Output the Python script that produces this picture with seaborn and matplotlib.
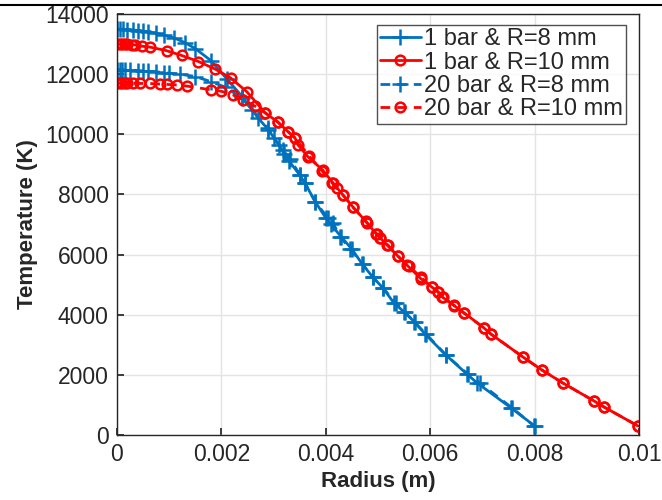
import numpy as np
import pandas as pd
import seaborn as sns
import matplotlib
matplotlib.use("Agg")
import matplotlib.pyplot as plt
from matplotlib.lines import Line2D

# ---------------- data ----------------
r_1bar_8mm = [0, 0.00006, 0.00012, 0.0002, 0.0003, 0.0004, 0.0005, 0.0006, 0.00075, 0.0009,
              0.0011, 0.0013, 0.0015, 0.0018, 0.0021, 0.0024, 0.0027, 0.0029, 0.0031, 0.0032,
              0.0033, 0.0035, 0.0036, 0.0038, 0.004, 0.0041, 0.0043, 0.0045, 0.0047, 0.0049,
              0.0051, 0.0053, 0.0055, 0.0057, 0.0059, 0.0063, 0.0067, 0.0069, 0.00755, 0.008]
T_1bar_8mm = [13500, 13500, 13490, 13480, 13470, 13450, 13430, 13400, 13360, 13300,
              13200, 13050, 12850, 12450, 11850, 11250, 10550, 10150, 9650, 9350,
              9100, 8650, 8380, 7750, 7220, 7000, 6580, 6180, 5680, 5250,
              4880, 4400, 4090, 3760, 3360, 2660, 2030, 1730, 900, 300]

r_1bar_10mm = [0, 0.00005, 0.0001, 0.00015, 0.0002, 0.00028, 0.00035, 0.00047, 0.00063, 0.00095,
               0.00124, 0.00156, 0.00188, 0.00218, 0.00249, 0.00284, 0.00308, 0.00328, 0.00341, 0.00347,
               0.00366, 0.00394, 0.00414, 0.00421, 0.00433, 0.00452, 0.00477, 0.00496, 0.00504, 0.00517,
               0.00538, 0.00556, 0.00582, 0.00603, 0.00615, 0.00623, 0.00646, 0.00665, 0.00703, 0.00716,
               0.00778, 0.00814, 0.00854, 0.00914, 0.00933, 0.00998]
T_1bar_10mm = [13000, 13000, 13000, 13000, 12990, 12980, 12970, 12930, 12900, 12780,
               12620, 12420, 12170, 11870, 11410, 10710, 10410, 10080, 9880, 9640,
               9250, 8810, 8380, 8230, 7980, 7580, 7100, 6700, 6560, 6320,
               5950, 5640, 5200, 4920, 4760, 4590, 4300, 4060, 3560, 3360,
               2590, 2160, 1730, 1130, 930, 300]

r_20bar_8mm = [0, 0.00005, 0.0001, 0.00015, 0.00025, 0.0004, 0.0005, 0.0006, 0.00075, 0.0009,
               0.001, 0.0012, 0.0015, 0.0018, 0.00207, 0.00239, 0.00259, 0.00289, 0.003, 0.00318,
               0.00331, 0.00351, 0.0036, 0.0038, 0.00404, 0.00414, 0.00427, 0.00446, 0.00471, 0.0049,
               0.00509, 0.00534, 0.00552, 0.00569, 0.00592, 0.0063, 0.00672, 0.00695, 0.00757, 0.00799]
T_20bar_8mm = [12150, 12150, 12150, 12140, 12140, 12120, 12110, 12100, 12080, 12050,
               12030, 12000, 11920, 11750, 11570, 11210, 10810, 10210, 9880, 9480,
               9180, 8650, 8380, 7750, 7220, 7050, 6600, 6200, 5670, 5250,
               4900, 4390, 4090, 3760, 3360, 2660, 2030, 1730, 900, 300]

r_20bar_10mm = [0, 0.00005, 0.0001, 0.00015, 0.0002, 0.0003, 0.00045, 0.00063, 0.00082, 0.00095,
                0.00115, 0.00135, 0.0018, 0.002, 0.00222, 0.00241, 0.00264, 0.00284, 0.00308, 0.00328,
                0.00341, 0.00368, 0.00393, 0.00412, 0.00433, 0.00452, 0.00479, 0.00498, 0.00504, 0.00519,
                0.00538, 0.00559, 0.00582, 0.00603, 0.00615, 0.00624, 0.00645, 0.00664, 0.00703, 0.00716,
                0.00778, 0.00814, 0.00854, 0.00914, 0.00933, 0.00998]
T_20bar_10mm = [11700, 11700, 11700, 11700, 11700, 11700, 11690, 11690, 11670, 11660,
                11640, 11600, 11480, 11430, 11310, 11150, 10940, 10710, 10410, 10080,
                9880, 9280, 8780, 8380, 7980, 7580, 7050, 6680, 6550, 6320,
                5950, 5620, 5250, 4920, 4760, 4590, 4320, 4060, 3560, 3360,
                2590, 2160, 1730, 1130, 930, 300]

labels = ["1 bar & R=8 mm", "1 bar & R=10 mm", "20 bar & R=8 mm", "20 bar & R=10 mm"]

# ---------------- style ----------------
sns.set_theme(style="ticks")
plt.rcParams['font.family'] = ['Liberation Sans', 'DejaVu Sans']
blue = "#0072BD"
red = "#FF0000"

fig = plt.figure(figsize=(6.62, 5.0), dpi=100)
ax = fig.add_axes([0.1767, 0.13, 0.7886, 0.842])

series = [
    (r_1bar_8mm, T_1bar_8mm, blue, "-", "+", 11),
    (r_1bar_10mm, T_1bar_10mm, red, "-", "o", 7),
    (r_20bar_8mm, T_20bar_8mm, blue, (0, (3.5, 2.5)), "+", 11),
    (r_20bar_10mm, T_20bar_10mm, red, (0, (3.5, 2.5)), "o", 7),
]
for (r, T, c, ls, mk, ms), lab in zip(series, labels):
    df = pd.DataFrame({"Radius": r, "Temperature": T})
    sns.lineplot(data=df, x="Radius", y="Temperature", ax=ax, color=c, linestyle=ls,
                 marker=mk, markersize=ms, markeredgewidth=1.8, markerfacecolor="none",
                 markeredgecolor=c, linewidth=2, estimator=None, sort=False, label=lab)

ax.set_xlim(0, 0.01)
ax.set_ylim(0, 14000)
ax.set_xticks([0, 0.002, 0.004, 0.006, 0.008, 0.01])
ax.set_xticklabels(["0", "0.002", "0.004", "0.006", "0.008", "0.01"])
ax.set_yticks(range(0, 14001, 2000))
ax.grid(True, color="#e3e3e3", linewidth=1)
ax.tick_params(direction="in", length=5, labelsize=16.5, colors="#262626", pad=6)
for s in ax.spines.values():
    s.set_color("#262626")
    s.set_linewidth(1)
ax.set_xlabel("Radius (m)", fontsize=16, fontweight="bold", color="#262626", labelpad=3)
ax.set_ylabel("Temperature (K)", fontsize=16, fontweight="bold", color="#262626", labelpad=5)

leg = ax.legend(loc="upper right", bbox_to_anchor=(0.976, 0.974), fontsize=17, frameon=True,
                fancybox=False, handlelength=1.7, handletextpad=0.15, borderpad=0.15,
                labelspacing=0.05, borderaxespad=0)
leg.get_frame().set_edgecolor("#262626")
leg.get_frame().set_linewidth(1)

# rule across the top of the crop
fig.add_artist(Line2D([0, 1], [0.99, 0.99], color="black", linewidth=1.5, transform=fig.transFigure))

fig.savefig("out.png", dpi=100)
